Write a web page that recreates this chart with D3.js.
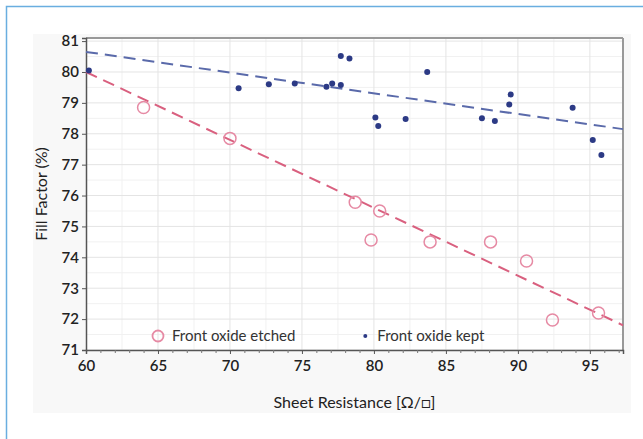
<!DOCTYPE html>
<html><head><meta charset="utf-8">
<script src="https://cdn.jsdelivr.net/npm/d3@7"></script>
<style>body{margin:0;background:#fff}svg{display:block}text{font-family:Lato,"Open Sans",sans-serif}</style>
</head><body><svg id="c" width="643" height="439"></svg>
<script>
const keptX = [60.2, 70.6, 72.7, 74.5, 76.7, 77.1, 77.7, 77.7, 78.3, 80.1, 80.3, 82.2, 83.7, 87.5, 88.4, 89.4, 89.5, 93.8, 95.2, 95.8];
const keptY = [80.05, 79.47, 79.6, 79.63, 79.52, 79.63, 79.58, 80.52, 80.44, 78.53, 78.25, 78.48, 80.0, 78.5, 78.41, 78.95, 79.27, 78.84, 77.8, 77.31];
const etchedX = [64.0, 70.0, 78.7, 79.8, 80.4, 83.9, 88.1, 90.6, 92.4, 95.6];
const etchedY = [78.85, 77.85, 75.78, 74.56, 75.5, 74.5, 74.5, 73.88, 71.97, 72.2];
const keptFitX = [60, 97.3], keptFitY = [80.65, 78.15];
const etchedFitX = [60, 97.3], etchedFitY = [80.0, 71.8];
const xTicks = [60, 65, 70, 75, 80, 85, 90, 95];
const yTicks = [71, 72, 73, 74, 75, 76, 77, 78, 79, 80, 81];
const seriesNames = ["Front oxide etched", "Front oxide kept"];

const svg = d3.select("#c");
// outer frame
svg.append("rect").attr("x",6.5).attr("y",6.5).attr("width",700).attr("height",500)
  .attr("fill","#fff").attr("stroke","#6aaee0").attr("stroke-width",1.5);
svg.append("rect").attr("x",33).attr("y",34).attr("width",598).attr("height",379).attr("fill","#f8f8f8");

const L=86, R=623, T=38, B=350;
const x = d3.scaleLinear().domain([60, 97.3]).range([L, R]);
const y = d3.scaleLinear().domain([71, 81.1]).range([B, T]);
svg.append("rect").attr("x",L).attr("y",T).attr("width",R-L).attr("height",B-T).attr("fill","#fff");

const g = svg.append("g");
// minor grid
const yMinor = d3.range(71.5, 81, 1);
g.selectAll(".ym").data(yMinor).join("line").attr("x1",L).attr("x2",R)
  .attr("y1",d=>y(d)).attr("y2",d=>y(d)).attr("stroke","#f1f1f1");
const xMinor = d3.range(62.5, 97.3, 5);
g.selectAll(".xm").data(xMinor).join("line").attr("y1",T).attr("y2",B)
  .attr("x1",d=>x(d)).attr("x2",d=>x(d)).attr("stroke","#f1f1f1");
// major grid
g.selectAll(".yg").data(yTicks).join("line").attr("x1",L).attr("x2",R)
  .attr("y1",d=>y(d)).attr("y2",d=>y(d)).attr("stroke","#e4e4e4");
g.selectAll(".xg").data(xTicks.slice(1)).join("line").attr("y1",T).attr("y2",B)
  .attr("x1",d=>x(d)).attr("x2",d=>x(d)).attr("stroke","#e4e4e4");

// frame
svg.append("line").attr("x1",L).attr("x2",R).attr("y1",T).attr("y2",T).attr("stroke","#999").attr("stroke-width",2);
svg.append("line").attr("x1",R).attr("x2",R).attr("y1",T).attr("y2",B).attr("stroke","#999").attr("stroke-width",2);

// axes
const xAxis = svg.append("g").attr("transform",`translate(0,${B})`)
  .call(d3.axisBottom(x).tickValues(xTicks).tickSize(4).tickPadding(6).tickFormat(d3.format("d")));
svg.append("g").attr("transform",`translate(0,${B})`)
  .call(d3.axisBottom(x).tickValues(d3.range(61,98,1).filter(v=>v%5)).tickSize(3).tickFormat(""))
  .call(a=>a.select(".domain").remove()).selectAll("line").attr("stroke","#777");
const yAxis = svg.append("g").attr("transform",`translate(${L},0)`)
  .call(d3.axisLeft(y).tickValues(yTicks).tickSize(4).tickPadding(3).tickFormat(d3.format("d")));
[xAxis,yAxis].forEach(a=>{
  a.select(".domain").attr("stroke","#555").attr("stroke-width",1.5);
  a.selectAll(".tick line").attr("stroke","#555");
  a.selectAll("text").attr("fill","#222").attr("font-size",15).attr("font-weight",600).style("font-family","Lato, sans-serif");
});

// fit lines
const line = d3.line().x(d=>x(d[0])).y(d=>y(d[1]));
svg.append("path").datum(keptFitX.map((v,i)=>[v,keptFitY[i]])).attr("d",line)
  .attr("fill","none").attr("stroke","#5a6aaa").attr("stroke-width",2).attr("stroke-dasharray","12,7");
svg.append("path").datum(etchedFitX.map((v,i)=>[v,etchedFitY[i]])).attr("d",line)
  .attr("fill","none").attr("stroke","#d9607f").attr("stroke-width",2).attr("stroke-dasharray","12,7");

// points
svg.selectAll(".e").data(etchedX.map((v,i)=>[v,etchedY[i]])).join("circle")
  .attr("cx",d=>x(d[0])).attr("cy",d=>y(d[1])).attr("r",6)
  .attr("fill","none").attr("stroke","#e68aa4").attr("stroke-width",1.5);
svg.selectAll(".k").data(keptX.map((v,i)=>[v,keptY[i]])).join("circle")
  .attr("cx",d=>x(d[0])).attr("cy",d=>y(d[1])).attr("r",3)
  .attr("fill","#2c3a85");

// legend
const ly = 336;
svg.append("circle").attr("cx",x(65)).attr("cy",ly).attr("r",5.5).attr("fill","none").attr("stroke","#e68aa4").attr("stroke-width",1.8);
svg.append("text").attr("x",x(65)+14).attr("y",ly+5).attr("font-size",15).attr("fill","#333").text(seriesNames[0]);
svg.append("circle").attr("cx",x(79.4)).attr("cy",ly).attr("r",2).attr("fill","#2c3a85");
svg.append("text").attr("x",x(79.4)+12).attr("y",ly+5).attr("font-size",15).attr("fill","#333").text(seriesNames[1]);

// titles
svg.append("text").attr("x",(L+R)/2).attr("y",408).attr("text-anchor","middle")
  .attr("font-size",16).attr("fill","#222").text("Sheet Resistance [Ω/□]");
svg.append("text").attr("transform",`translate(47,${(T+B)/2}) rotate(-90)`).attr("text-anchor","middle")
  .attr("font-size",16).attr("fill","#222").text("Fill Factor (%)");
</script></body></html>
